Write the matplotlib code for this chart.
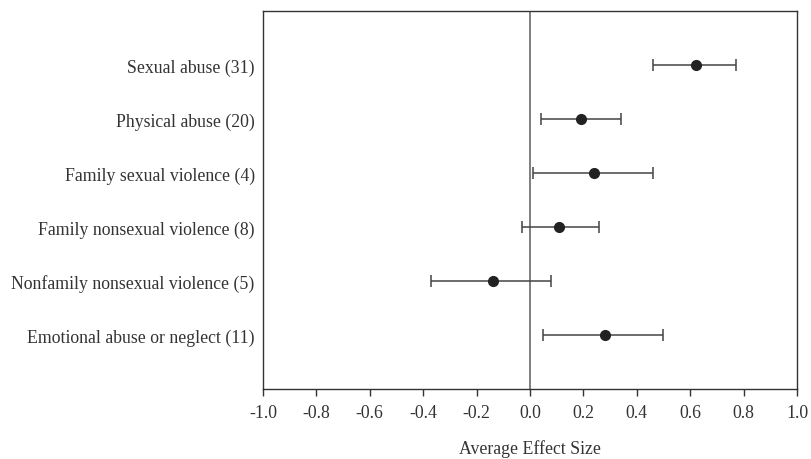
import matplotlib
matplotlib.use("Agg")
import matplotlib.pyplot as plt

categories = [
    "Sexual abuse (31)",
    "Physical abuse (20)",
    "Family sexual violence (4)",
    "Family nonsexual violence (8)",
    "Nonfamily nonsexual violence (5)",
    "Emotional abuse or neglect (11)",
]
effect = [0.62, 0.19, 0.24, 0.11, -0.14, 0.28]
ci_low = [0.46, 0.04, 0.01, -0.03, -0.37, 0.05]
ci_high = [0.77, 0.34, 0.46, 0.26, 0.08, 0.50]
xticks = [-1.0, -0.8, -0.6, -0.4, -0.2, 0.0, 0.2, 0.4, 0.6, 0.8, 1.0]

plt.rcParams["font.family"] = ["Liberation Serif", "DejaVu Serif"]
plt.rcParams["font.size"] = 12.8

fig = plt.figure(figsize=(8.11, 4.6), dpi=100)
ax = fig.add_axes([0.3243, 0.1522, 0.6584, 0.8217])

n = len(categories)
ypos = list(range(n, 0, -1))
err_lo = [e - l for e, l in zip(effect, ci_low)]
err_hi = [h - e for e, h in zip(effect, ci_high)]

ax.axvline(0, color="#7f7f7f", lw=1.4, zorder=1)
ax.errorbar(effect, ypos, xerr=[err_lo, err_hi], fmt="o", color="#222222",
            ecolor="#444444", elinewidth=1.1, capsize=4.5, capthick=1.1,
            markersize=7, zorder=3)

ax.set_xlim(-1.0, 1.0)
ax.set_ylim(0, n + 1)
ax.set_xticks(xticks)
ax.set_xticklabels([f"{t:.1f}" for t in xticks], color="#333333")
ax.set_yticks(ypos)
ax.set_yticklabels(categories, color="#333333")
ax.tick_params(axis="y", length=0, pad=6)
ax.tick_params(axis="x", direction="out", length=5, width=1, pad=6, color="#333333")
ax.set_xlabel("Average Effect Size", color="#333333", labelpad=13)
for s in ax.spines.values():
    s.set_color("#333333")
    s.set_linewidth(1.0)

fig.savefig("out.png", dpi=100)
